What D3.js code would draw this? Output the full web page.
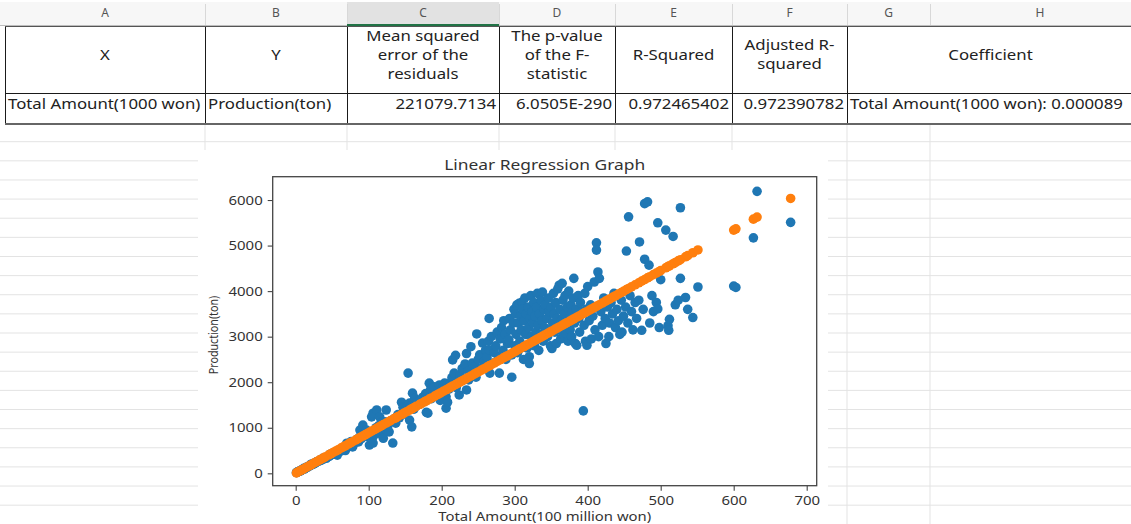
<!DOCTYPE html>
<html><head><meta charset="utf-8">
<script src="https://cdn.jsdelivr.net/npm/d3@7"></script>
<style>
html,body{margin:0;padding:0;background:#fff;}
svg{display:block;font-family:"Noto Sans","Open Sans",sans-serif;}
</style></head>
<body><svg id="c" width="1131" height="524"></svg>
<script>
// ---------- spreadsheet data ----------
const colLetters = ["A","B","C","D","E","F","G","H"];
const headerTexts = [["X"],["Y"],["Mean squared","error of the","residuals"],["The p-value","of the F-","statistic"],["R-Squared"],["Adjusted R-","squared"],["Coefficient"]];
const rowValues = ["Total Amount(1000 won)","Production(ton)","221079.7134","6.0505E-290","0.972465402","0.972390782","Total Amount(1000 won): 0.000089"];

// ---------- chart data ----------
const chartTitle = "Linear Regression Graph";
const xLabel = "Total Amount(100 million won)";
const yLabel = "Production(ton)";
const xTicks = [0,100,200,300,400,500,600,700];
const yTicks = [0,1000,2000,3000,4000,5000,6000];

// observed (blue): [Total Amount, Production]
const observed = [
[1,15],[2,25],[3,30],[4,40],[5,45],[6,60],[7,55],[8,70],[9,80],[10,85],[11,110],[12,95],[14,120],[15,135],[16,130],[18,150],[19,165],[20,180],[21,200],[23,190],[24,215],[25,210],[27,230],[28,245],[29,250],[31,260],[33,290],[34,280],[36,300],[37,330],[38,310],[40,340],[42,330],[43,360],[45,380],[46,370],[47,420],[48,400],[50,430],
[51,445],[53,420],[55,470],[57,400],[58,480],[60,510],[62,490],[63,540],[65,520],[67,560],[68,500],[70,600],[70,660],[72,580],[74,620],[75,640],[76,700],[78,580],[80,650],[82,700],[83,730],[85,760],[86,690],[88,950],[89,820],[90,760],[92,1060],[93,830],[95,880],[97,950],[98,810],[100,900],
[101,620],[103,850],[104,1240],[106,1320],[106,800],[106,665],[108,940],[110,1000],[111,1390],[112,880],[114,1050],[115,1240],[115,880],[117,990],[118,1120],[120,770],[120,1060],[122,1130],[124,1390],[124,950],[126,1020],[128,910],[130,1150],[133,665],[135,1200],[137,1100],[140,1290],[142,1220],[145,1560],[147,1450],[148,1300],
[150,1380],[152,1450],[154,2200],[156,1540],[156,1170],[158,1480],[159,1020],[160,1760],[160,1500],[162,1410],[163,1650],[165,1480],[167,1560],[170,1520],[172,1600],[174,1670],[176,1580],[178,1750],[179,1720],[179,1340],[181,1320],[183,1980],[185,1850],[186,1640],[188,1780],[190,1900],[192,1700],[195,1820],[197,1940],[198,1600],
[200,1780],[202,1900],[204,1980],[206,1680],[206,1430],[208,1560],[210,1850],[212,1990],[214,2100],[215,2490],[217,2200],[219,2590],[220,1880],[222,2000],[224,1720],[225,2150],[228,2300],[230,2050],[232,2400],[234,2630],[234,1830],[236,2250],[237,2050],[240,2780],[242,2420],[244,2200],[246,2350],[247,2110],[248,3060],[250,2500],
[252,2600],[254,2300],[256,2860],[258,2450],[260,2700],[262,2550],[264,2900],[265,2710],[265,3400],[266,2200],[268,3000],[270,2420],[272,2650],[274,2800],[276,3100],[278,2550],[279,2200],[280,2950],[282,3200],[284,2700],[285,3350],[287,3050],[288,2500],[290,2850],[292,2930],[293,3400],[294,3150],[296,2110],[296,2600],[298,3300],[299,3600],[300,2800],
[301,3500],[302,3050],[303,3700],[304,2650],[305,3300],[306,3730],[307,2900],[308,3450],[309,3150],[310,3760],[311,3600],[312,2500],[313,3350],[314,3850],[315,3050],[316,3500],[317,2750],[318,3650],[319,3200],[320,2560],[320,2410],[321,3400],[322,3900],[323,3000],[324,3550],[325,3300],[326,3750],[327,2800],[328,3450],[329,3100],[330,3650],[331,3950],[332,3250],[333,2700],[334,3500],[335,3050],[336,3800],[337,3350],[338,3980],[339,2900],[340,3600],[341,3200],[342,3700],[344,3400],[345,3000],[346,3850],[347,3550],[348,3150],[349,2800],[350,3650],
[351,2740],[352,3300],[353,3950],[354,3500],[355,3100],[356,3750],[357,2850],[358,3400],[359,4050],[360,3200],[361,4130],[362,3600],[363,2950],[364,3350],[365,4170],[366,3800],[367,3050],[368,3500],[369,3900],[370,3070],[371,3250],[372,3650],[373,2900],[374,4000],[375,3400],[376,3150],[377,3700],[378,3000],[379,3550],[380,3850],[381,4280],[382,3300],[383,2850],[384,3600],[385,2810],[386,3450],[387,3900],[388,3400],[389,3100],[390,3750],[392,3550],[394,1370],[395,3250],[396,3950],[397,2900],[398,3600],[399,2810],[400,4100],
[402,3350],[404,3700],[405,2950],[407,3450],[409,4200],[410,3150],[412,5060],[412,4900],[414,4420],[415,3000],[416,4280],[418,3550],[420,3250],[422,3850],[424,3400],[425,2850],[427,3650],[429,3000],[430,3300],[432,3750],[434,3500],[436,3950],[438,3200],[440,3600],[442,3350],[444,3050],[446,3800],[447,3100],[449,3450],
[452,3650],[453,4880],[455,3300],[456,5630],[458,3900],[460,3550],[462,3150],[465,3750],[467,3400],[470,3800],[471,5080],[474,3140],[476,3600],[478,5920],[478,4700],[482,5960],[484,4570],[485,3300],[488,3900],[490,3550],[494,3750],[496,3610],[496,5500],[498,3200],[500,4250],
[507,5340],[510,3240],[511,3140],[512,3380],[517,5200],[520,3700],[524,3800],[527,5830],[527,4280],[534,3860],[537,3600],[544,3420],[551,4090],
[600,4110],[603,4080],[627,5170],[632,6190],[678,5510]
];

// predicted (orange): [Total Amount, predicted Production]
const predicted = [
[1,9],[4,36],[7,62],[10,89],[14,125],[18,160],[21,187],[25,223],[29,258],[33,294],[37,329],[40,356],[45,401],[48,427],[51,454],[55,490],[58,516],[62,552],[65,579],[68,605],[72,641],[75,668],[78,694],[82,730],[85,757],[88,783],[92,819],[95,846],[98,872],
[101,899],[104,926],[108,961],[111,988],[114,1015],[117,1041],[120,1068],[124,1104],[128,1139],[130,1157],[135,1202],[137,1219],[140,1246],[145,1291],[148,1317],[152,1353],[156,1388],[159,1415],[162,1442],[165,1469],[170,1513],[172,1531],[176,1566],[179,1593],[183,1629],[186,1655],[190,1691],[192,1709],[195,1736],[198,1762],
[202,1798],[206,1833],[210,1869],[212,1887],[215,1914],[219,1949],[222,1976],[225,2003],[228,2029],[232,2065],[236,2100],[240,2136],[244,2172],[247,2198],[250,2225],[254,2261],[258,2296],[262,2332],[265,2359],[268,2385],[272,2421],[276,2456],[280,2492],[284,2528],[287,2554],[290,2581],[294,2617],[298,2652],
[301,2679],[305,2715],[308,2741],[312,2777],[315,2804],[318,2830],[321,2857],[325,2893],[328,2919],[331,2946],[335,2982],[338,3008],[341,3035],[345,3071],[348,3097],[351,3124],[355,3160],[358,3186],[361,3213],[365,3249],[368,3275],[371,3302],[375,3338],[378,3364],[381,3391],[385,3427],[388,3453],[392,3489],[395,3516],[398,3542],
[402,3578],[405,3605],[409,3640],[412,3667],[416,3702],[420,3738],[424,3774],[427,3800],[430,3827],[434,3863],[438,3898],[442,3934],[446,3969],[449,3996],[453,4032],[456,4058],[460,4094],[465,4139],[470,4183],[474,4219],[478,4254],[482,4290],[485,4317],[490,4361],[494,4397],[498,4432],
[500,4450],[507,4512],[510,4539],[512,4557],[517,4601],[520,4628],[524,4664],[527,4690],[534,4753],[537,4779],[544,4842],[551,4904],
[600,5340],[603,5367],[627,5580],[632,5625],[678,6034]
];

// ---------- drawing ----------
const svg = d3.select("#c");
const W = 1131, H = 524;
const font = '"Noto Sans","Open Sans",sans-serif';
svg.append("rect").attr("width",W).attr("height",H).attr("fill","#fff");

// helper: text with horizontal stretch (mimics the wider UI font of the original)
function stext(parent, x, y, str, opt) {
  const o = Object.assign({size:15, sx:1.12, anchor:"start", fill:"#222"}, opt||{});
  return parent.append("text")
    .attr("transform", `translate(${x},${y}) scale(${o.sx},1)`)
    .attr("dy","0.35em").attr("text-anchor",o.anchor)
    .attr("font-size",o.size).attr("fill",o.fill).text(str);
}

// column edges (layout)
const edges = [5,205,347,499,615,732,847,930,1150];
const headerTop = 2, headerBot = 26, row1Bot = 93, row2Bot = 124;

// background gridlines of the sheet
const gridG = svg.append("g");
const firstRowLine = 141.7, rowH = 19.13;
const rowLines = [];
for (let y = firstRowLine; y < H; y += rowH) rowLines.push(y);
gridG.selectAll("line.h").data(rowLines).join("line")
  .attr("x1",0).attr("x2",W).attr("y1",d=>d).attr("y2",d=>d)
  .attr("stroke","#e3e3e3").attr("stroke-width",1);
gridG.selectAll("line.v").data(edges.slice(1,8)).join("line")
  .attr("x1",d=>d).attr("x2",d=>d).attr("y1",row2Bot).attr("y2",H)
  .attr("stroke","#e3e3e3").attr("stroke-width",1);

// column header row
svg.append("rect").attr("x",0).attr("y",headerTop).attr("width",W).attr("height",headerBot-headerTop).attr("fill","#f7f7f7");
svg.append("rect").attr("x",edges[2]).attr("y",headerTop).attr("width",edges[3]-edges[2]).attr("height",headerBot-headerTop).attr("fill","#e2e2e2");
svg.selectAll("line.hd").data(edges.slice(1,8)).join("line")
  .attr("x1",d=>d+0.5).attr("x2",d=>d+0.5).attr("y1",headerTop+2).attr("y2",headerBot)
  .attr("stroke","#d8d8d8");
svg.selectAll("text.hd").data(colLetters).join("text")
  .attr("x",(d,i)=>(edges[i]+edges[i+1])/2).attr("y",17)
  .attr("text-anchor","middle").attr("font-size",12).attr("fill","#555").text(d=>d);
svg.append("line").attr("x1",0).attr("x2",W).attr("y1",headerBot-0.5).attr("y2",headerBot-0.5).attr("stroke","#bdbdbd");
svg.append("line").attr("x1",edges[2]).attr("x2",edges[3]).attr("y1",headerBot-1).attr("y2",headerBot-1).attr("stroke","#217346").attr("stroke-width",2);

// table cells
const cellX = [[0,1],[1,2],[2,3],[3,4],[4,5],[5,6],[6,8]];
svg.append("rect").attr("x",edges[0]).attr("y",headerBot).attr("width",W-edges[0]).attr("height",row2Bot-headerBot).attr("fill","#fff");
const hdrG = svg.append("g");
headerTexts.forEach((lines,i)=>{
  const cx = (edges[cellX[i][0]] + edges[cellX[i][1]])/2 + (i===6 ? -8 : 0);
  const mid = 54.5, lh = 19;
  lines.forEach((t,j)=>{
    stext(hdrG, cx, mid + (j-(lines.length-1)/2)*lh, t, {anchor:"middle"});
  });
});
const align = ["start","start","end","end","end","end","start"];
rowValues.forEach((t,i)=>{
  const a = align[i];
  const x = a==="start" ? edges[cellX[i][0]]+3 : edges[cellX[i][1]]-3;
  stext(svg, x, 104, t, {anchor:a});
});
// borders
const bG = svg.append("g").attr("stroke","#1a1a1a").attr("stroke-width",1);
edges.slice(0,7).forEach(x=>{
  bG.append("line").attr("x1",x+0.5).attr("x2",x+0.5).attr("y1",headerBot).attr("y2",row2Bot);
});
bG.append("line").attr("x1",edges[0]).attr("x2",W).attr("y1",row1Bot+0.5).attr("y2",row1Bot+0.5);
bG.append("line").attr("x1",edges[0]).attr("x2",W).attr("y1",headerBot+0.5).attr("y2",headerBot+0.5).attr("stroke","#555");
svg.append("line").attr("x1",edges[0]).attr("x2",W).attr("y1",row2Bot).attr("y2",row2Bot).attr("stroke","#666").attr("stroke-width",2);

// ---------- chart image ----------
const chartBox = {x:198, y:150, w:630, h:374};
svg.append("rect").attr("x",chartBox.x).attr("y",chartBox.y).attr("width",chartBox.w).attr("height",chartBox.h).attr("fill","#fff");

const plot = {l:272.7, r:816.7, t:176.7, b:485.7};
const x = d3.scaleLinear().domain([-31.5, 713.7]).range([plot.l, plot.r]);
const y = d3.scaleLinear().domain([-272, 6512]).range([plot.b, plot.t]);

const g = svg.append("g");
svg.append("clipPath").attr("id","pc").append("rect")
  .attr("x",plot.l).attr("y",plot.t).attr("width",plot.r-plot.l).attr("height",plot.b-plot.t);

const pts = g.append("g").attr("clip-path","url(#pc)");
pts.selectAll("circle.o").data(observed).join("circle")
  .attr("cx",d=>x(d[0])).attr("cy",d=>y(d[1])).attr("r",4.8).attr("fill","#1f77b4");
pts.selectAll("circle.p").data(predicted).join("circle")
  .attr("cx",d=>x(d[0])).attr("cy",d=>y(d[1])).attr("r",4.8).attr("fill","#ff7f0e");

// axes
const xAxis = d3.axisBottom(x).tickValues(xTicks).tickSize(5).tickPadding(5).tickFormat(d3.format("d"));
const yAxis = d3.axisLeft(y).tickValues(yTicks).tickSize(5).tickPadding(5).tickFormat(d3.format("d"));
const gx = g.append("g").attr("transform",`translate(0,${plot.b})`).call(xAxis);
const gy = g.append("g").attr("transform",`translate(${plot.l},0)`).call(yAxis);
[gx,gy].forEach(a=>{
  a.select(".domain").remove();
  a.selectAll(".tick line").attr("stroke","#444").attr("stroke-width",1.1);
  a.selectAll(".tick text").attr("fill","#333").attr("font-size",13).attr("font-family",font);
});
// horizontal stretch of tick labels
gx.selectAll(".tick text").attr("transform","scale(1.15,1)").attr("x",0);
gy.selectAll(".tick text").each(function(){
  const t = d3.select(this);
  const xx = +t.attr("x");
  t.attr("x", xx/1.15).attr("transform","scale(1.15,1)");
});

g.append("rect").attr("x",plot.l).attr("y",plot.t).attr("width",plot.r-plot.l).attr("height",plot.b-plot.t)
  .attr("fill","none").attr("stroke","#444").attr("stroke-width",1.3);

stext(g, (plot.l+plot.r)/2, 165, chartTitle, {size:14.5, sx:1.2, anchor:"middle", fill:"#333"});
stext(g, (plot.l+plot.r)/2, 516, xLabel, {size:13.5, sx:1.1, anchor:"middle", fill:"#333"});
g.append("text").attr("transform",`translate(214,335) rotate(-90) scale(1,1.15)`).attr("dy","0.35em")
  .attr("text-anchor","middle").attr("font-size",10.7).attr("fill","#333").text(yLabel);
</script></body></html>
